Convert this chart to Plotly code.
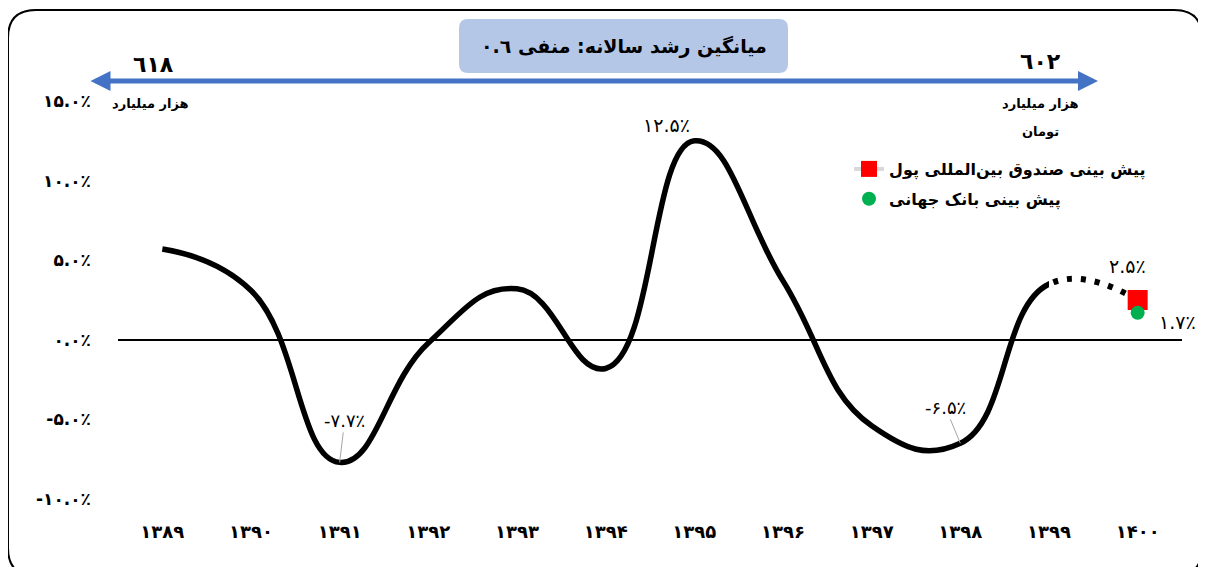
import plotly.graph_objects as go

# داده‌ها
years = ['۱۳۸۹', '۱۳۹۰', '۱۳۹۱', '۱۳۹۲', '۱۳۹۳', '۱۳۹۴',
         '۱۳۹۵', '۱۳۹۶', '۱۳۹۷', '۱۳۹۸', '۱۳۹۹', '۱۴۰۰']
growth = [5.7, 3.1, -7.7, -0.2, 3.2, -1.8, 12.5, 3.7, -5.4, -6.5, 3.5]
imf_1400 = 2.5
wb_1400 = 1.7
ytick_vals = [-10, -5, 0, 5, 10, 15]
gdp_start = '٦١٨'
gdp_end = '٦٠٢'

# page coordinates of the reference; the html body adds an 8px margin
W, H, OFF = 1206, 567, 8
L, R, T, B = 118, 24, 101, 68
FONT = 'DejaVu Sans'


def fa(s):
    return s.translate(str.maketrans('0123456789%', '۰۱۲۳۴۵۶۷۸۹٪'))


def pct(v):
    return fa(f'{v:.1f}%')


def px(x):
    return (x - L) / (W - L - R)


def py(y):
    return (H - B - y) / (H - T - B)


def rrect(x0, y0, x1, y1, r):
    pts = [
        ('M', x0 + r, y0), ('L', x1 - r, y0), ('Q', x1, y0, x1, y0 + r),
        ('L', x1, y1 - r), ('Q', x1, y1, x1 - r, y1), ('L', x0 + r, y1),
        ('Q', x0, y1, x0, y1 - r), ('L', x0, y0 + r), ('Q', x0, y0, x0 + r, y0),
    ]
    out = ''
    for p in pts:
        c = p[1:]
        xy = ' '.join(f'{px(c[i]):.5f},{py(c[i + 1]):.5f}' for i in range(0, len(c), 2))
        out += p[0] + ' ' + xy + ' '
    return out + 'Z'


line_all = growth + [imf_1400]
n_actual = len(growth)
split = (n_actual - 0.5) / len(years)

fig = go.Figure()
# خط واقعی تا ۱۳۹۹ (بریده در مرز زیرنمودار اول)
fig.add_trace(go.Scatter(
    x=years, y=line_all, mode='lines', xaxis='x', yaxis='y',
    line=dict(color='black', width=5.5, shape='spline', smoothing=1.3, simplify=False),
    showlegend=False, hoverinfo='skip'))
# ادامه نقطه‌چین تا ۱۴۰۰
fig.add_trace(go.Scatter(
    x=years, y=line_all, mode='lines', xaxis='x2', yaxis='y',
    line=dict(color='black', width=6, shape='spline', smoothing=1.3, simplify=False,
              dash='5px,9px'),
    showlegend=False, hoverinfo='skip'))
fig.add_trace(go.Scatter(
    x=[years[-1]], y=[imf_1400], mode='lines+markers', xaxis='x3', yaxis='y',
    name='پیش بینی صندوق بین‌المللی پول', legendgroup='a',
    marker=dict(symbol='square', size=20, color='#FF0000'),
    line=dict(color='#D9D9D9', width=4)))
fig.add_trace(go.Scatter(
    x=[years[-1]], y=[wb_1400], mode='markers', xaxis='x3', yaxis='y',
    name='پیش بینی بانک جهانی', legendgroup='b',
    marker=dict(symbol='circle', size=14, color='#00B050')))

cat = dict(type='category', categoryorder='array', categoryarray=years, anchor='y')
fig.update_layout(
    width=W - OFF, height=H - OFF,
    margin=dict(l=L - OFF, r=R, t=T - OFF, b=B),
    paper_bgcolor='white', plot_bgcolor='rgba(0,0,0,0)',
    font=dict(family=FONT, color='black'),
    xaxis=dict(**cat, range=[-0.5, n_actual - 1], domain=[0, split], visible=False),
    xaxis2=dict(**cat, range=[n_actual - 1, len(years) - 0.5], domain=[split, 1],
                visible=False),
    xaxis3=dict(**cat, range=[-0.5, len(years) - 0.5], domain=[0, 1],
                showgrid=False, showline=False, zeroline=False, ticks='',
                tickfont=dict(size=18, weight='bold'), ticklabelstandoff=20),
    yaxis=dict(range=[-10, 15], tickvals=ytick_vals,
               ticktext=[fa(f'{v:.1f}%') for v in ytick_vals],
               showgrid=False, showline=False, ticks='',
               zeroline=True, zerolinecolor='black', zerolinewidth=1.5,
               tickfont=dict(size=17, weight='bold'), ticklabelstandoff=26),
    legend=dict(x=px(849), y=py(152), xanchor='left', yanchor='top',
                bgcolor='rgba(0,0,0,0)', tracegroupgap=6,
                font=dict(size=16, weight='bold')),
    showlegend=True,
)

fig.add_shape(type='path', xref='paper', yref='paper', path=rrect(8, 10, 1202, 576, 28),
              line=dict(color='black', width=2), fillcolor='rgba(0,0,0,0)', layer='below')
fig.add_shape(type='path', xref='paper', yref='paper', path=rrect(459, 19, 788, 73, 9),
              line=dict(width=0), fillcolor='#B4C7E7', layer='below')

ann = [
    dict(x=px(624), y=py(46), text='میانگین رشد سالانه: منفی ٠.٦',
         font=dict(size=19, weight='bold')),
    dict(x=px(153), y=py(64), text=gdp_start, font=dict(size=22, weight='bold')),
    dict(x=px(1040), y=py(62), text=gdp_end, font=dict(size=22, weight='bold')),
    dict(x=px(150), y=py(104), text='هزار میلیارد', font=dict(size=13, weight='bold')),
    dict(x=px(1040), y=py(104), text='هزار میلیارد', font=dict(size=13, weight='bold')),
    dict(x=px(1040), y=py(132), text='تومان', font=dict(size=13, weight='bold')),
]
for a in ann:
    fig.add_annotation(xref='paper', yref='paper', xanchor='center', yanchor='middle',
                       showarrow=False, **a)

# پیکان دوطرفه
fig.add_annotation(xref='paper', yref='paper', x=px(1098), y=py(81), ax=-(1098 - 89), ay=0,
                   text='', showarrow=True, arrowside='end+start',
                   arrowhead=2, startarrowhead=2, arrowsize=0.8, startarrowsize=0.8,
                   arrowwidth=5, arrowcolor='#4472C4')

# برچسب مقادیر
lab = dict(xref='x3', yref='y')
fig.add_annotation(**lab, x=years[6], y=growth[6], text=pct(growth[6]), showarrow=False,
                   xshift=-28, yshift=16, font=dict(size=19))
fig.add_annotation(**lab, x=years[2], y=growth[2], text=pct(growth[2]), showarrow=True,
                   arrowhead=0, arrowwidth=1, arrowcolor='#A6A6A6', ax=5, ay=-42,
                   font=dict(size=18))
fig.add_annotation(**lab, x=years[9], y=growth[9], text=pct(growth[9]), showarrow=True,
                   arrowhead=0, arrowwidth=1, arrowcolor='#A6A6A6', ax=-15, ay=-36,
                   font=dict(size=18))
fig.add_annotation(**lab, x=years[-1], y=imf_1400, text=pct(imf_1400),
                   showarrow=False, xshift=-10, yshift=34, font=dict(size=19))
fig.add_annotation(**lab, x=years[-1], y=wb_1400, text=pct(wb_1400),
                   showarrow=False, xshift=40, yshift=-9, font=dict(size=19))

fig.write_html('out.html')
